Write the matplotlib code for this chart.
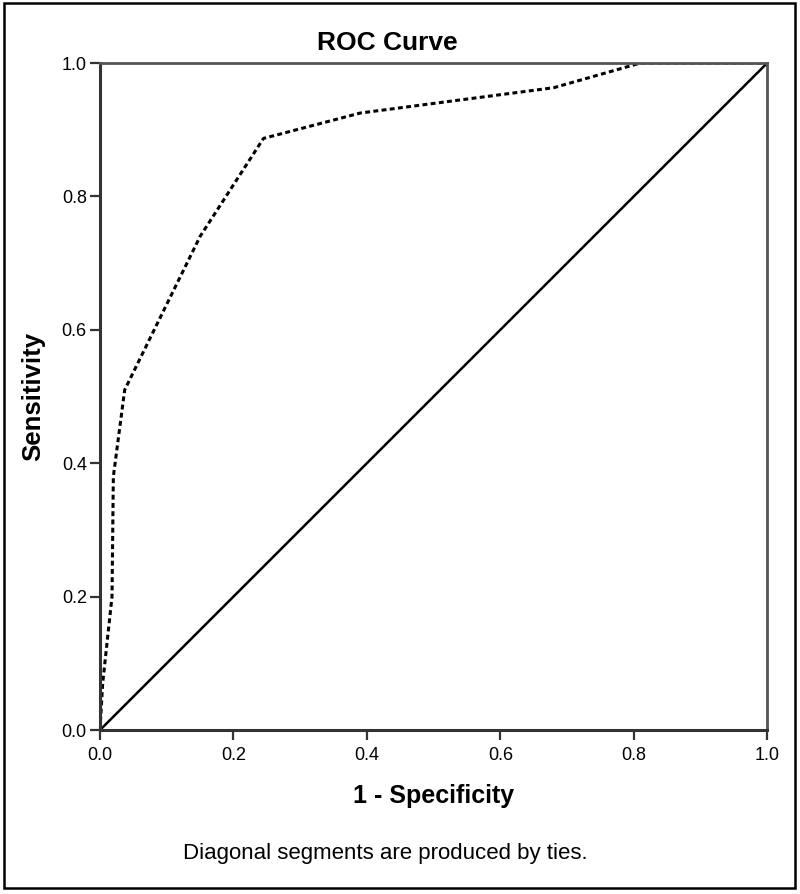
import numpy as np
import matplotlib
matplotlib.use("Agg")
from matplotlib import pyplot as plt
from matplotlib.patches import Rectangle

plt.rcParams['font.family'] = ['Liberation Sans', 'DejaVu Sans']

# ROC curve points
fpr = [0.0, 0.004, 0.018, 0.02, 0.037, 0.15, 0.245, 0.39, 0.68, 0.81, 1.0]
tpr = [0.0, 0.07, 0.20, 0.38, 0.51, 0.74, 0.887, 0.925, 0.963, 1.0, 1.0]
ref = [0.0, 1.0]
ticks = [0.0, 0.2, 0.4, 0.6, 0.8, 1.0]
tick_labels = ["0.0", "0.2", "0.4", "0.6", "0.8", "1.0"]

fig = plt.figure(figsize=(8, 8.94), dpi=100)
ax = fig.add_axes([0.125, 0.1834, 0.834, 0.7461])

ax.plot(ref, ref, color="black", lw=1.8, solid_capstyle="round")
ax.plot(fpr, tpr, color="black", lw=2.2, linestyle=(0, (1.6, 1.1)))

ax.set_xlim(0, 1)
ax.set_ylim(0, 1)
ax.set_xticks(ticks)
ax.set_xticklabels(tick_labels)
ax.set_yticks(ticks)
ax.set_yticklabels(tick_labels)
ax.tick_params(direction="out", length=7.5, width=1.6, labelsize=13, color="#333333", pad=2)
ax.tick_params(axis="x", pad=5)

for side in ["left", "bottom"]:
    ax.spines[side].set_linewidth(2.2)
    ax.spines[side].set_color("#333333")
for side in ["top", "right"]:
    ax.spines[side].set_linewidth(2.0)
    ax.spines[side].set_color("#555555")

# title is centred on the chart area, not on the axes
fig.text(0.484, 1 - 50 / 894, "ROC Curve", ha="center", va="baseline", fontsize=19, fontweight="bold")
ax.set_xlabel("1 - Specificity", fontsize=18, fontweight="bold", labelpad=14)
ax.set_ylabel("Sensitivity", fontsize=18.5, fontweight="bold", labelpad=12)

fig.text(0.482, 1 - 854 / 894, "Diagonal segments are produced by ties.", ha="center", va="center", fontsize=16)

fig.patches.append(Rectangle((0.005, 0.0067), 0.989, 0.99, transform=fig.transFigure,
                             fill=False, edgecolor="black", lw=1.8))

fig.savefig("out.png", dpi=100)
